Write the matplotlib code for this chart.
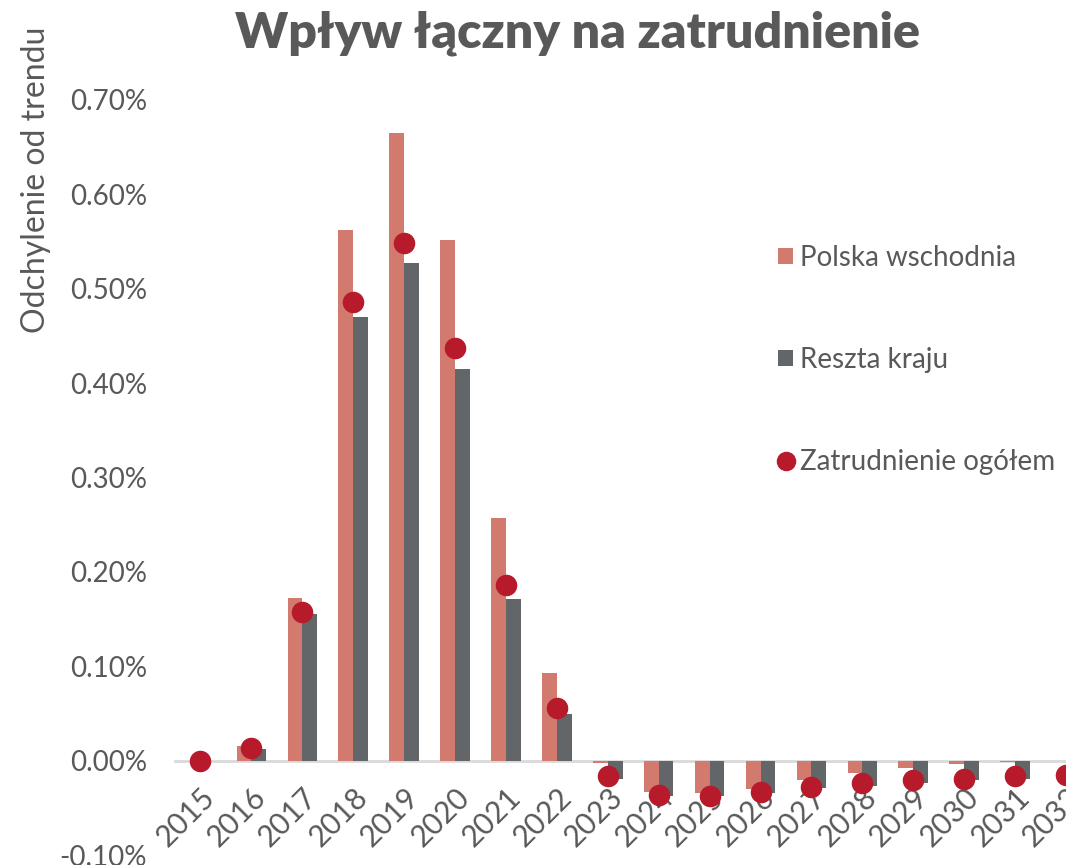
import matplotlib
matplotlib.use("Agg")
import matplotlib.pyplot as plt
import numpy as np
from matplotlib.ticker import FuncFormatter

years = [str(y) for y in range(2015, 2033)]
polska_wschodnia = [0.0, 0.016, 0.172, 0.562, 0.665, 0.552, 0.257, 0.093, -0.002, -0.033,
                    -0.034, -0.030, -0.021, -0.013, -0.0075, -0.0035, -0.001, -0.0005]
reszta_kraju = [0.0, 0.012, 0.155, 0.470, 0.527, 0.415, 0.171, 0.049, -0.019, -0.037,
                -0.038, -0.034, -0.029, -0.027, -0.024, -0.021, -0.019, -0.017]
zatrudnienie = [0.0, 0.0135, 0.157, 0.486, 0.549, 0.437, 0.186, 0.056, -0.016, -0.036,
                -0.038, -0.033, -0.028, -0.024, -0.021, -0.019, -0.016, -0.015]
y_ticks = [-0.1, 0.0, 0.1, 0.2, 0.3, 0.4, 0.5, 0.6, 0.7]

c_pw = "#D27A6E"
c_rk = "#626669"
c_z = "#B71A2B"
c_txt = "#595959"

plt.rcParams['font.family'] = ['Lato', 'DejaVu Sans']

fig = plt.figure(figsize=(10.66, 8.65), dpi=100)
ax = fig.add_axes([175/1066, 1-855/865, 1-175/1066, (855-100)/865])

x = np.arange(len(years))
w = 0.29
b1 = ax.bar(x - w/2, polska_wschodnia, width=w, color=c_pw, label="Polska wschodnia", zorder=2)
b2 = ax.bar(x + w/2, reszta_kraju, width=w, color=c_rk, label="Reszta kraju", zorder=2)
l1, = ax.plot(x, zatrudnienie, 'o', ms=14.5, color=c_z, label="Zatrudnienie ogółem", zorder=3, clip_on=False)

ax.set_xlim(-0.5, 17.0)
ax.set_ylim(-0.1, 0.7)
ax.set_yticks(y_ticks)
ax.yaxis.set_major_formatter(FuncFormatter(lambda v, p: f"{v:.2f}%"))

for s in ['top', 'right', 'left']:
    ax.spines[s].set_visible(False)
ax.spines['bottom'].set_position(('data', 0))
ax.spines['bottom'].set_color('#d9d9d9')
ax.spines['bottom'].set_linewidth(2)
ax.spines['bottom'].set_zorder(1)

ax.set_xticks(x)
ax.set_xticklabels(years, rotation=45, ha='right', va='top', rotation_mode='anchor')
ax.tick_params(axis='x', length=0, pad=16, labelsize=21.5, colors=c_txt)
ax.tick_params(axis='y', length=0, pad=20, labelsize=20, colors=c_txt)

fig.text(36/1066, 1-180/865, "Odchylenie od trendu", rotation=90, ha='center', va='center',
         fontsize=23, color=c_txt)

fig.text(577/1066, 1-33/865, "Wpływ łączny na zatrudnienie", ha='center', va='center',
         fontsize=36, fontweight='heavy', color=c_txt)

leg = ax.legend([b1, b2, l1], ["Polska wschodnia", "Reszta kraju", "Zatrudnienie ogółem"],
                loc='center left', bbox_to_anchor=(0.6768, 0.6556), frameon=False,
                borderpad=0, borderaxespad=0,
                fontsize=20, labelspacing=2.74, handlelength=0.54, handleheight=0.54,
                handletextpad=0.25, markerscale=0.9)
for t in leg.get_texts():
    t.set_color(c_txt)

fig.savefig("out.png", dpi=100)
